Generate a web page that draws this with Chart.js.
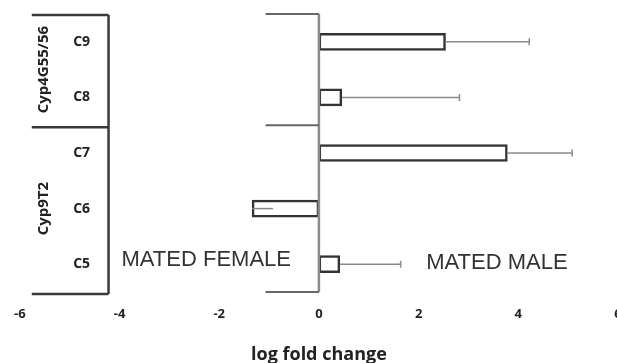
<!DOCTYPE html>
<html lang="en">
<head>
  <meta charset="UTF-8" />
  <title>log fold change</title>
  <script src="https://cdn.jsdelivr.net/npm/chart.js"></script>
  <style>
    html, body { margin: 0; padding: 0; background: #fff; overflow: hidden; }
    canvas { display: block; }
  </style>
</head>
<body>
  <canvas id="chart" width="640" height="366"></canvas>

  <script>
    // data
    const categories = ['C9', 'C8', 'C7', 'C6', 'C5'];
    const foldChange = [2.54, 0.46, 3.78, -1.34, 0.42];
    const errorEnd = [4.22, 2.82, 5.08, -0.92, 1.64];
    const groupNames = ['Cyp4G55/56', 'Cyp9T2'];
    const groupSizes = [2, 3];
    const xMin = -6, xMax = 6, xStep = 2;

    Chart.defaults.font.family = "'Open Sans', sans-serif";

    // frame lines, category table, error bars and side labels
    const extras = {
      id: 'extras',
      afterDatasetsDraw(chart) {
        const ctx = chart.ctx;
        const xs = chart.scales.x;
        const ys = chart.scales.y;
        const area = chart.chartArea;
        const step = ys.getPixelForValue(1) - ys.getPixelForValue(0);
        const meta = chart.getDatasetMeta(0);

        // error bars (no cap when the whisker ends inside the bar)
        ctx.save();
        ctx.strokeStyle = '#8a8a8a';
        ctx.lineWidth = 1.5;
        meta.data.forEach((bar, i) => {
          const x0 = xs.getPixelForValue(foldChange[i]);
          const x1 = xs.getPixelForValue(errorEnd[i]);
          ctx.beginPath();
          ctx.moveTo(x0, bar.y);
          ctx.lineTo(x1, bar.y);
          const inside = Math.abs(errorEnd[i]) < Math.abs(foldChange[i]) && errorEnd[i] * foldChange[i] > 0;
          if (!inside) {
            ctx.moveTo(x1, bar.y - 3.5);
            ctx.lineTo(x1, bar.y + 3.5);
          }
          ctx.stroke();
        });
        ctx.restore();

        // group boundaries
        const bounds = [area.top];
        let idx = 0;
        groupSizes.forEach(n => {
          idx += n;
          bounds.push(ys.getPixelForValue(idx - 1) + step / 2);
        });

        ctx.save();
        // axis at zero
        const x0 = xs.getPixelForValue(0);
        ctx.strokeStyle = '#8c8c8c';
        ctx.lineWidth = 2.5;
        ctx.beginPath();
        ctx.moveTo(x0, area.top);
        ctx.lineTo(x0, area.bottom);
        ctx.stroke();
        ctx.strokeStyle = '#666';
        ctx.lineWidth = 2;
        const xt = xs.getPixelForValue(-1.07);
        bounds.forEach(b => {
          ctx.beginPath();
          ctx.moveTo(xt, b);
          ctx.lineTo(x0, b);
          ctx.stroke();
        });

        // left label table
        const tl = xs.getPixelForValue(-5.76);
        const tr = xs.getPixelForValue(-4.22);
        ctx.strokeStyle = '#3a3a3a';
        ctx.lineWidth = 2.5;
        ctx.beginPath();
        ctx.moveTo(tr, area.top + 1);
        ctx.lineTo(tr, area.bottom + 2);
        ctx.stroke();
        bounds.forEach((b, k) => {
          const yy = k === 0 ? b + 1 : b + 2;
          ctx.beginPath();
          ctx.moveTo(tl, yy);
          ctx.lineTo(tr, yy);
          ctx.stroke();
        });

        // category labels
        ctx.fillStyle = '#222';
        ctx.font = "bold 14px 'Open Sans', sans-serif";
        ctx.textAlign = 'center';
        ctx.textBaseline = 'middle';
        const xc = xs.getPixelForValue(-4.76);
        categories.forEach((c, i) => {
          ctx.fillText(c, xc, ys.getPixelForValue(i));
        });

        // group labels, rotated
        ctx.font = "bold 15px 'Open Sans', sans-serif";
        const xg = xs.getPixelForValue(-5.52);
        let start = 0;
        groupNames.forEach((g, k) => {
          const end = start + groupSizes[k] - 1;
          const yc = (ys.getPixelForValue(start) + ys.getPixelForValue(end)) / 2;
          ctx.save();
          ctx.translate(xg, yc);
          ctx.rotate(-Math.PI / 2);
          ctx.fillText(g, 0, 0);
          ctx.restore();
          start = end + 1;
        });

        // side annotations
        ctx.fillStyle = '#333';
        ctx.font = "22px 'Liberation Sans', sans-serif";
        const yLast = ys.getPixelForValue(categories.length - 1);
        ctx.fillText('MATED FEMALE', xs.getPixelForValue(-2.26), yLast - 4);
        ctx.fillText('MATED MALE', xs.getPixelForValue(3.57), yLast - 1);
        ctx.restore();
      }
    };

    new Chart(document.getElementById('chart'), {
      type: 'bar',
      data: {
        labels: categories,
        datasets: [{
          data: foldChange,
          backgroundColor: '#ffffff',
          borderColor: '#333333',
          borderWidth: 2.5,
          borderSkipped: false,
          barThickness: 17
        }]
      },
      options: {
        indexAxis: 'y',
        responsive: false,
        animation: false,
        devicePixelRatio: 1,
        layout: { padding: { left: 18, right: 22, top: 14, bottom: 0 } },
        plugins: {
          legend: { display: false },
          tooltip: { enabled: false }
        },
        scales: {
          x: {
            min: xMin,
            max: xMax,
            afterFit(scale) { scale.height = 74; },
            grid: { display: false, drawTicks: false },
            border: { display: false },
            ticks: {
              stepSize: xStep,
              padding: 14,
              color: '#222',
              font: { size: 13, weight: 'bold' }
            },
            title: {
              display: true,
              text: 'log fold change',
              color: '#222',
              padding: { top: 0, bottom: 0 },
              font: { size: 18, weight: 'bold' }
            }
          },
          y: {
            display: false
          }
        }
      },
      plugins: [extras]
    });
  </script>
</body>
</html>
